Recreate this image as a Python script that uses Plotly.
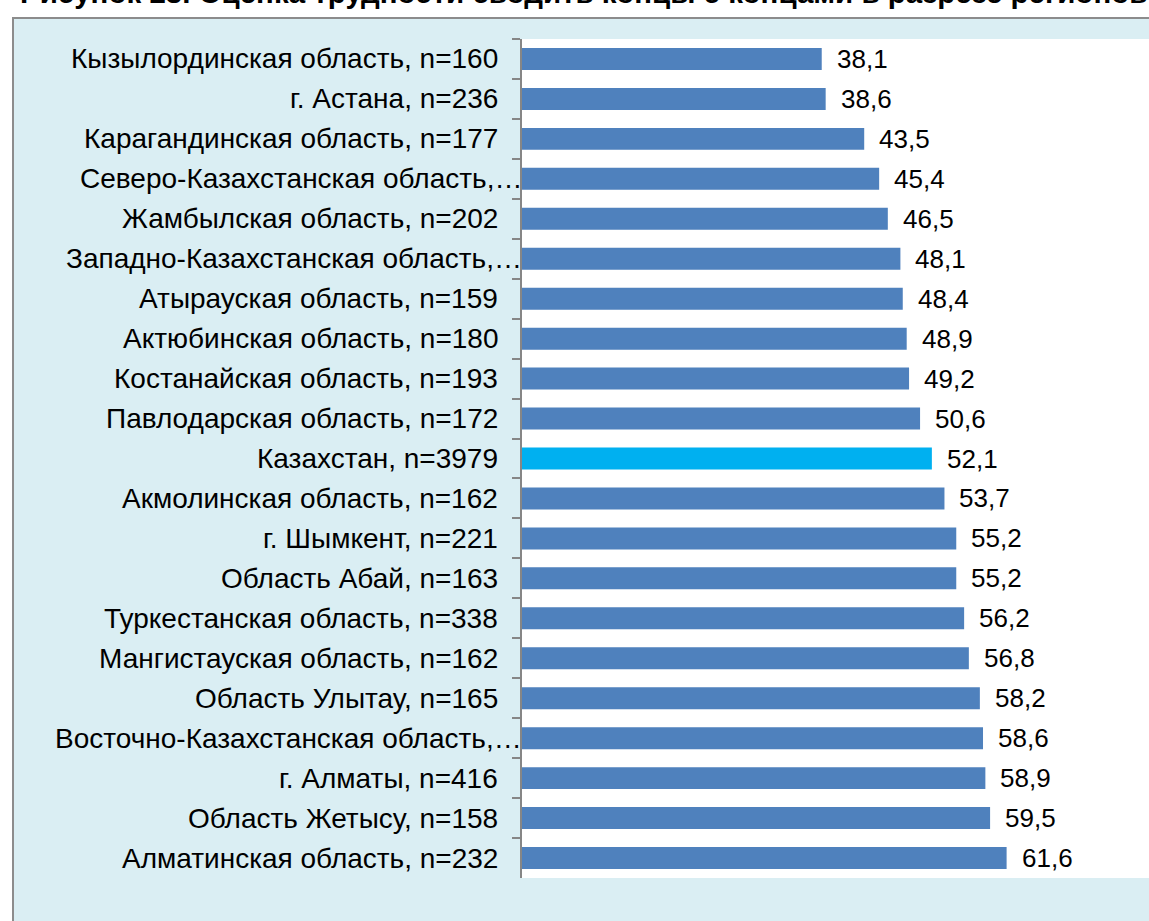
import plotly.graph_objects as go

categories = [
    "Кызылординская область, n=160",
    "г. Астана, n=236",
    "Карагандинская область, n=177",
    "Северо-Казахстанская область,…",
    "Жамбылская область, n=202",
    "Западно-Казахстанская область,…",
    "Атырауская область, n=159",
    "Актюбинская область, n=180",
    "Костанайская область, n=193",
    "Павлодарская область, n=172",
    "Казахстан, n=3979",
    "Акмолинская область, n=162",
    "г. Шымкент, n=221",
    "Область Абай, n=163",
    "Туркестанская область, n=338",
    "Мангистауская область, n=162",
    "Область Улытау, n=165",
    "Восточно-Казахстанская область,…",
    "г. Алматы, n=416",
    "Область Жетысу, n=158",
    "Алматинская область, n=232",
]
values = [38.1, 38.6, 43.5, 45.4, 46.5, 48.1, 48.4, 48.9, 49.2, 50.6, 52.1,
          53.7, 55.2, 55.2, 56.2, 56.8, 58.2, 58.6, 58.9, 59.5, 61.6]
title_text = "Рисунок 23. Оценка трудности сводить концы с концами в разрезе регионов"

W, H = 1149, 921
ML, MR, MT, MB = 522, 0, 39, 43
PW, PH = W - ML - MR, H - MT - MB
FONT = "Liberation Sans, Arial, sans-serif"


def px_x(px):
    return (px - ML) / PW


def px_y(py):
    return (H - MB - py) / PH


colors = ["#00B0F0" if c.startswith("Казахстан") else "#4F81BD" for c in categories]
labels = [f"{v:.1f}".replace(".", ",") for v in values]

fig = go.Figure(go.Bar(
    x=values, y=categories, orientation="h",
    marker=dict(color=colors, line=dict(width=0)),
    width=0.55,
    hoverinfo="skip",
))

# value labels
for c, v, t in zip(categories, values, labels):
    fig.add_annotation(x=v, y=c, text=t, showarrow=False, xanchor="left",
                       xshift=13, font=dict(family=FONT, size=26, color="#000000"))

# category labels (truncated ones overflow toward the axis, as in the source)
for c in categories:
    right_px = 523 if c.endswith("…") else 499
    fig.add_annotation(xref="paper", yref="y", x=px_x(right_px), y=c, text=c,
                       showarrow=False, xanchor="right", borderpad=0,
                       font=dict(family=FONT, size=28, color="#000000"))

fig.add_annotation(xref="paper", yref="paper", x=px_x(19), y=px_y(10),
                   xanchor="left", yanchor="bottom", text=f"<b>{title_text}</b>",
                   showarrow=False, borderpad=0,
                   font=dict(family=FONT, size=29.5, color="#000000"))

fig.add_shape(type="rect", xref="paper", yref="paper", layer="below",
              x0=px_x(13), x1=px_x(W + 20), y0=px_y(H + 20), y1=px_y(18),
              fillcolor="#DAEEF3", line=dict(color="#8C8C8C", width=2))
fig.add_shape(type="rect", xref="paper", yref="paper", layer="below",
              x0=0, x1=px_x(W + 20), y0=0, y1=1,
              fillcolor="#FFFFFF", line=dict(width=0))

fig.update_layout(
    width=W, height=H,
    margin=dict(l=ML, r=MR, t=MT, b=MB, pad=0),
    paper_bgcolor="#FFFFFF", plot_bgcolor="#FFFFFF",
    showlegend=False,
    font=dict(family=FONT, size=20, color="#000000"),
    xaxis=dict(range=[0, 79.7], visible=False, fixedrange=True),
    yaxis=dict(
        autorange="reversed", type="category",
        showline=True, linecolor="#868686", linewidth=1.5,
        ticks="outside", tickson="boundaries", ticklen=8, tickcolor="#868686", tickwidth=1.5,
        showticklabels=False,
        showgrid=False, zeroline=False,
        fixedrange=True,
    ),
)

fig.write_html(
    "out.html",
    config={"displayModeBar": False},
    post_script="document.body.style.margin='0px';document.body.style.overflow='hidden';",
)
